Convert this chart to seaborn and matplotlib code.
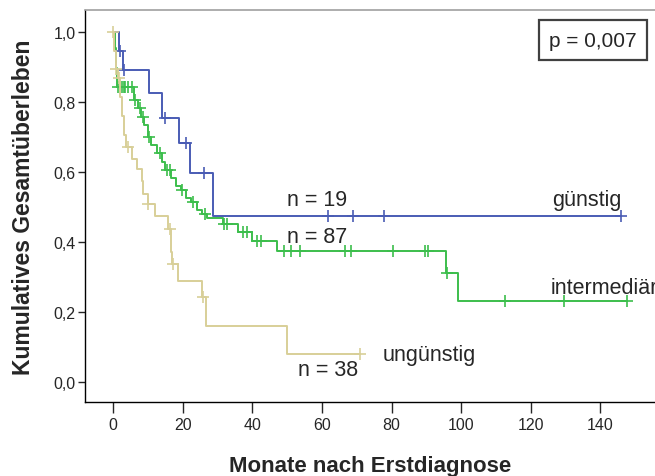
import numpy as np
import pandas as pd
import matplotlib
matplotlib.use('Agg')
import matplotlib.pyplot as plt
import seaborn as sns

# Kaplan-Meier steps: time (months) and survival after each step
guenstig_t = [0, 1.7, 2.9, 10.3, 14.1, 19.0, 22.0, 28.7]
guenstig_s = [1.0, 0.947, 0.891, 0.826, 0.754, 0.683, 0.597, 0.475]
guenstig_end = 146.0
guenstig_cens = [2.0, 3.2, 15.0, 21.0, 26.0, 61.8, 69.0, 77.9, 146.0]

inter_t = [0, 0.4, 0.8, 1.2, 6.0, 7.0, 8.0, 9.0, 10.0, 11.0, 12.5, 14.0, 15.0, 16.5,
           18.0, 19.5, 21.0, 22.5, 24.0, 25.5, 27.0, 31.6, 36.0, 40.0, 47.0, 95.5, 99.0]
inter_s = [1.0, 0.954, 0.897, 0.843, 0.805, 0.782, 0.758, 0.735, 0.700, 0.677, 0.654,
           0.630, 0.607, 0.584, 0.561, 0.549, 0.526, 0.514, 0.491, 0.480, 0.469, 0.451,
           0.429, 0.403, 0.374, 0.311, 0.233]
inter_end = 147.7
inter_cens = [1.5, 2.5, 3.0, 3.5, 4.3, 5.5, 6.3, 7.8, 8.6, 10.2, 13.5, 15.5, 16.4, 19.8,
              23.0, 26.4, 31.8, 32.8, 37.4, 38.5, 41.4, 42.4, 49.0, 51.0, 53.7, 66.7,
              68.4, 80.5, 89.7, 90.5, 96.0, 112.6, 129.6, 147.7]

unguenstig_t = [0, 0.3, 0.8, 1.5, 2.0, 2.6, 3.2, 3.8, 5.5, 6.9, 8.3, 8.6, 10.0, 12.0,
                15.8, 16.5, 17.0, 18.7, 25.5, 26.8, 50.0]
unguenstig_s = [1.0, 0.947, 0.895, 0.868, 0.814, 0.760, 0.705, 0.671, 0.637, 0.609,
                0.574, 0.537, 0.508, 0.474, 0.437, 0.371, 0.337, 0.289, 0.243, 0.160, 0.080]
unguenstig_end = 71.0
unguenstig_cens = [0.0, 0.9, 1.6, 4.2, 10.0, 16.3, 17.2, 25.8, 71.0]

groups = ['intermediär', 'günstig', 'ungünstig']
colors = {'günstig': '#4a5cb4', 'intermediär': '#3cbe4c', 'ungünstig': '#d8cf98'}

curves = {
    'günstig': (guenstig_t, guenstig_s, guenstig_end, guenstig_cens),
    'intermediär': (inter_t, inter_s, inter_end, inter_cens),
    'ungünstig': (unguenstig_t, unguenstig_s, unguenstig_end, unguenstig_cens),
}

line_rows = []
cens_rows = []
for g in groups:
    t, s, end, cens = curves[g]
    for ti, si in zip(t, s):
        line_rows.append((g, ti, si))
    line_rows.append((g, end, s[-1]))
    t_arr = np.array(t)
    for c in cens:
        idx = np.searchsorted(t_arr, c, side='right') - 1
        cens_rows.append((g, c, s[idx]))

lines = pd.DataFrame(line_rows, columns=['gruppe', 'monate', 'surv'])
cens_df = pd.DataFrame(cens_rows, columns=['gruppe', 'monate', 'surv'])

sns.set_style('white')
plt.rcParams['font.family'] = ['Liberation Sans', 'DejaVu Sans']

fig = plt.figure(figsize=(6.55, 4.77), dpi=100)
ax = fig.add_axes([0.130, 0.155, 0.870, 0.822])

for g in groups:
    sub = lines[lines['gruppe'] == g]
    sns.lineplot(data=sub, x='monate', y='surv', color=colors[g], drawstyle='steps-post',
                 estimator=None, sort=False, linewidth=1.4, ax=ax, legend=False)
    csub = cens_df[cens_df['gruppe'] == g]
    ax.plot(csub['monate'], csub['surv'], linestyle='none', marker='+', markersize=9,
            markeredgewidth=1.2, color=colors[g])

ax.set_xlim(-8.05, 155.7)
ax.set_ylim(-0.057, 1.063)
ax.set_xticks(np.arange(0, 141, 20))
ax.set_yticks(np.arange(0, 1.01, 0.2))
ax.set_yticklabels([f'{v:.1f}'.replace('.', ',') for v in np.arange(0, 1.01, 0.2)])
ax.tick_params(axis='x', direction='out', length=8, width=1, labelsize=11.5, pad=3,
               bottom=True)
ax.tick_params(axis='y', direction='out', length=5, width=1, labelsize=11.5, pad=2,
               left=True)

for side in ['left', 'bottom']:
    ax.spines[side].set_color('black')
    ax.spines[side].set_linewidth(1.0)
ax.spines['top'].set_color('#a0a0a0')
ax.spines['top'].set_linewidth(1.2)
ax.spines['right'].set_visible(False)

label_font = dict(family=['Liberation Sans Narrow', 'Liberation Sans', 'DejaVu Sans'],
                  fontweight='bold', fontsize=16)
ax.set_xlabel('Monate nach Erstdiagnose', labelpad=16, **label_font)
ax.set_ylabel('Kumulatives Gesamtüberleben', labelpad=13, fontsize=16.5,
              family=label_font['family'], fontweight='bold')

txt = dict(fontsize=15.5, va='center')
ax.text(50.0, 0.523, 'n = 19', **txt)
ax.text(50.0, 0.417, 'n = 87', **txt)
ax.text(53.0, 0.037, 'n = 38', **txt)
ax.text(126, 0.523, 'günstig', **txt)
ax.text(125.6, 0.27, 'intermediär', **txt)
ax.text(77.3, 0.08, 'ungünstig', **txt)

ax.text(0.891, 0.923, 'p = 0,007', transform=ax.transAxes, fontsize=15,
        ha='center', va='center',
        bbox=dict(boxstyle='square,pad=0.5', facecolor='white', edgecolor='#404040',
                  linewidth=1.6))

fig.savefig('out.png', dpi=100)
